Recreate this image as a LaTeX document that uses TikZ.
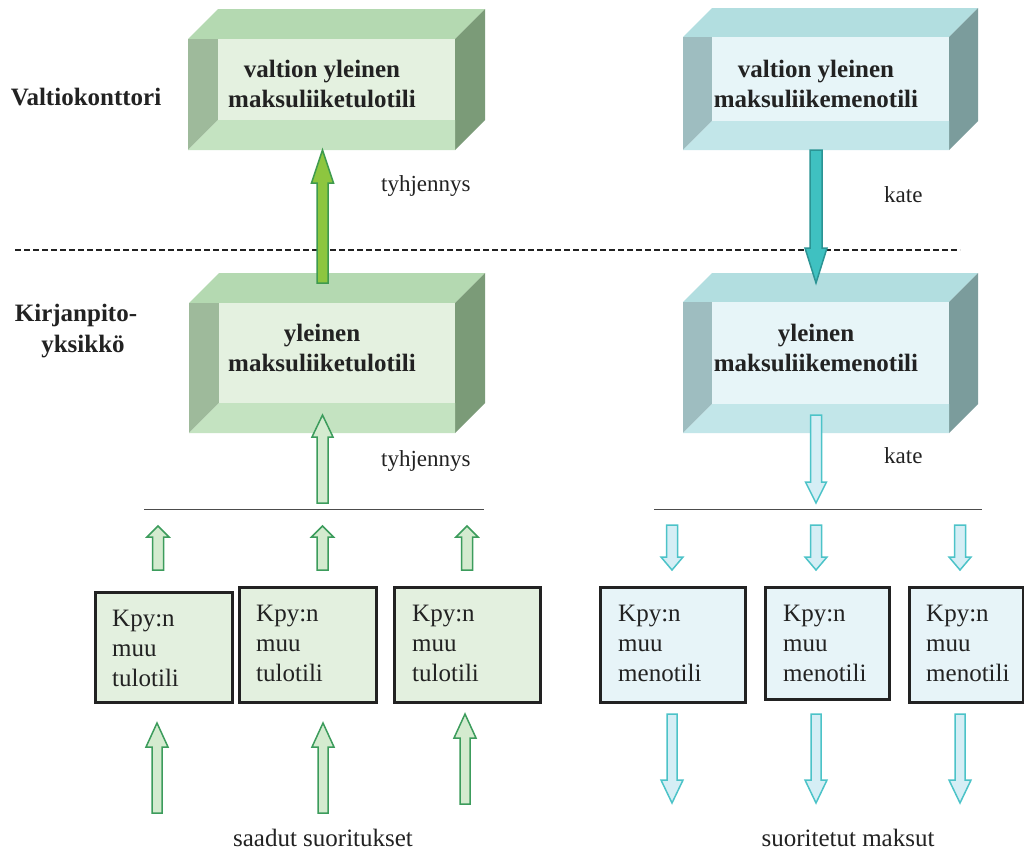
\documentclass[tikz,border=0pt]{standalone}
\usepackage{fontspec}
\setmainfont{Liberation Serif}
\definecolor{gtop}{HTML}{B4D9B1}
\definecolor{gleft}{HTML}{9EBA9B}
\definecolor{gright}{HTML}{7B9B78}
\definecolor{gbot}{HTML}{C4E3C1}
\definecolor{gfront}{HTML}{E4F1E0}
\definecolor{ttop}{HTML}{B2DEE0}
\definecolor{tleft}{HTML}{9EBDC0}
\definecolor{tright}{HTML}{7B9C9C}
\definecolor{tbot}{HTML}{C2E6E9}
\definecolor{tfront}{HTML}{E7F5F8}
\definecolor{txt}{HTML}{222222}
\definecolor{gbox}{HTML}{E3F0DF}
\definecolor{tbox}{HTML}{E7F4F8}
\definecolor{garrfill}{HTML}{8DC63F}
\definecolor{garrdraw}{HTML}{3E9A4E}
\definecolor{tarrfill}{HTML}{3FC1C1}
\definecolor{tarrdraw}{HTML}{2B9494}
\definecolor{glfill}{HTML}{D4EBCF}
\definecolor{gldraw}{HTML}{3C9C5C}
\definecolor{tlfill}{HTML}{D5EEF5}
\definecolor{tldraw}{HTML}{4CC3C8}
% 3D bevel box: x1 y1 x2 y2 depth colourprefix
\newcommand{\cubebox}[6]{%
  \fill[#6top] (#1,{#2+#5}) -- ({#1+#5},#2) -- (#3,#2) -- ({#3-#5},{#2+#5}) -- cycle;
  \fill[#6right] ({#3-#5},{#2+#5}) -- (#3,#2) -- (#3,{#4-#5}) -- ({#3-#5},#4) -- cycle;
  \fill[#6left] (#1,{#2+#5}) -- ({#1+#5},{#2+#5}) -- ({#1+#5},{#4-#5}) -- (#1,#4) -- cycle;
  \fill[#6bot] (#1,#4) -- ({#1+#5},{#4-#5}) -- ({#3-#5},{#4-#5}) -- ({#3-#5},#4) -- cycle;
  \fill[#6front] ({#1+#5},{#2+#5}) rectangle ({#3-#5},{#4-#5});
}
% block arrow: style cx ytail ybase ytip halfshaft halfhead
\newcommand{\blockarrow}[7]{%
  \draw[#1] ({#2-#6},#3) -- ({#2-#6},#4) -- ({#2-#7},#4) -- (#2,#5) -- ({#2+#7},#4) -- ({#2+#6},#4) -- ({#2+#6},#3) -- cycle;
}
\begin{document}
\begin{tikzpicture}[x=1pt,y=-1pt,
  title/.style={font=\fontsize{25}{30}\selectfont\bfseries, text=txt, align=center, inner sep=0pt},
  side/.style={font=\fontsize{25}{31}\selectfont\bfseries, text=txt, align=center, inner sep=0pt},
  note/.style={font=\fontsize{23}{26}\selectfont, text=txt, anchor=west, inner sep=0pt},
  kbox/.style={draw=txt, line width=3pt, anchor=north west, inner sep=0pt},
  ktext/.style={font=\fontsize{25}{30}\selectfont, text=txt, align=left, anchor=west, inner sep=0pt},
  bigg/.style={fill=garrfill, draw=garrdraw, line width=1.5pt, line join=miter},
  bigt/.style={fill=tarrfill, draw=tarrdraw, line width=1.5pt},
  lightg/.style={fill=glfill, draw=gldraw, line width=1.5pt},
  lightt/.style={fill=tlfill, draw=tldraw, line width=1.5pt},
  caption/.style={font=\fontsize{25}{28}\selectfont, text=txt, inner sep=0pt}]
\useasboundingbox (0,0) rectangle (1024,852);
\fill[white] (0,0) rectangle (1024,852);

% 3D boxes
\cubebox{188}{9}{485}{150}{30}{g}
\cubebox{189}{273}{485}{433}{30}{g}
\cubebox{683}{8}{978}{150}{29}{t}
\cubebox{683}{273}{978}{433}{29}{t}

\node[title] (vtulo) at (322,84) {valtion yleinen\\maksuliiketulotili};
\node[title] (vmeno) at (816,84) {valtion yleinen\\maksuliikemenotili};
\node[title] (ytulo) at (322,348) {yleinen\\maksuliiketulotili};
\node[title] (ymeno) at (816,348) {yleinen\\maksuliikemenotili};

% side labels
\node[side] (vk) at (86,97) {Valtiokonttori};
\node[side, anchor=base] (kp1) at (76,321) {Kirjanpito-};
\node[side, anchor=base] (kp2) at (83,352) {yksikkö};

% dashed separator
\coordinate (dl) at (15,250);
\coordinate (dr) at (960,250);
\draw[txt, line width=1.8pt, dash pattern=on 6pt off 3pt] (dl) -- (dr);

% notes
\node[note] (n1) at (381,186) {tyhjennys};
\node[note] (n2) at (381,461) {tyhjennys};
\node[note] (n3) at (884,195) {kate};
\node[note] (n4) at (884,456) {kate};

% big arrows
\blockarrow{bigg}{322.5}{283}{183}{150}{5.5}{11}
\blockarrow{bigt}{816}{150}{248}{283}{6}{11}

% light arrows from/to the lower boxes
\blockarrow{lightg}{322.5}{503}{437}{415}{5.5}{10.5}
\blockarrow{lightt}{816}{415}{482}{503}{5.5}{10.5}

% thin collecting lines
\coordinate (la) at (144,509);
\coordinate (lb) at (484,509);
\coordinate (lc) at (654,509);
\coordinate (ld) at (982,509);
\draw[black!70, line width=0.9pt] (la) -- (lb);
\draw[black!70, line width=0.9pt] (lc) -- (ld);

% small arrows
\blockarrow{lightg}{158}{570}{537}{526}{5.5}{11}
\blockarrow{lightg}{322.5}{570}{537}{526}{5.5}{11}
\blockarrow{lightg}{467}{570}{537}{526}{5.5}{11}
\blockarrow{lightt}{672}{525}{557}{570}{5.5}{11}
\blockarrow{lightt}{816}{525}{557}{570}{5.5}{11}
\blockarrow{lightt}{960}{525}{557}{570}{5.5}{11}

% account boxes
\node[kbox, fill=gbox, minimum width=137pt, minimum height=110pt] (k1) at (94,591) {};
\node[kbox, fill=gbox, minimum width=137pt, minimum height=115pt] (k2) at (238,586) {};
\node[kbox, fill=gbox, minimum width=146pt, minimum height=115pt] (k3) at (393,586) {};
\node[kbox, fill=tbox, minimum width=145pt, minimum height=115pt] (k4) at (599,586) {};
\node[kbox, fill=tbox, minimum width=124pt, minimum height=112pt] (k5) at (764,586) {};
\node[kbox, fill=tbox, minimum width=114pt, minimum height=115pt] (k6) at (908,586) {};

\node[ktext] (t1) at (112,648) {Kpy:n\\muu\\tulotili};
\node[ktext] (t2) at (256,643) {Kpy:n\\muu\\tulotili};
\node[ktext] (t3) at (412,643) {Kpy:n\\muu\\tulotili};
\node[ktext] (t4) at (618,643) {Kpy:n\\muu\\menotili};
\node[ktext] (t5) at (783,643) {Kpy:n\\muu\\menotili};
\node[ktext] (t6) at (926,643) {Kpy:n\\muu\\menotili};

% bottom arrows
\blockarrow{lightg}{157}{813}{747}{723}{5}{11}
\blockarrow{lightg}{323}{813}{747}{723}{5}{11}
\blockarrow{lightg}{465}{804}{738}{714}{5}{11}
\blockarrow{lightt}{672}{714}{780}{803}{5}{11}
\blockarrow{lightt}{816}{714}{780}{803}{5}{11}
\blockarrow{lightt}{960}{714}{780}{803}{5}{11}

\node[caption] (c1) at (323,838) {saadut suoritukset};
\node[caption] (c2) at (848,838) {suoritetut maksut};
\end{tikzpicture}
\end{document}
